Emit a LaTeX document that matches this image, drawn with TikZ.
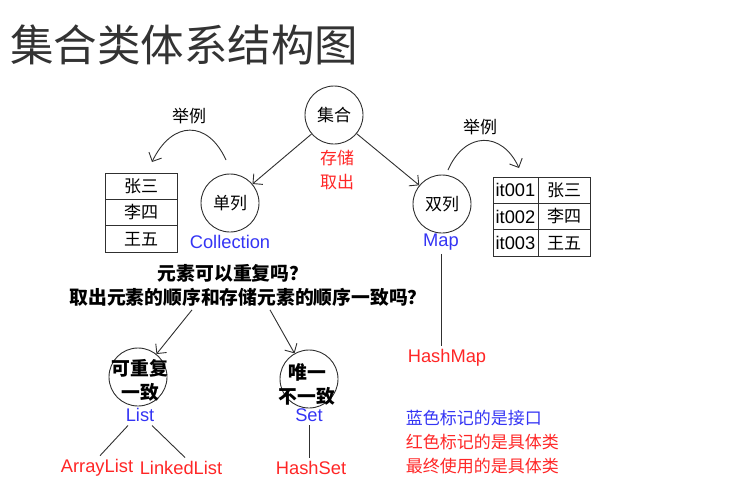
\documentclass[tikz,border=0pt]{standalone}
\usepackage{fontspec}
\setmainfont{Liberation Sans}
\newfontfamily\cjk{Noto Sans CJK SC}
\usetikzlibrary{arrows.meta,positioning}
\definecolor{iface}{HTML}{3434F4}
\definecolor{impl}{HTML}{FF2626}
\definecolor{ink}{HTML}{303030}
\newcommand{\zhsize}{\cjk\fontsize{17}{24}\selectfont}
\newcommand{\qsize}{\cjk\bfseries\fontsize{18.8}{24}\selectfont}
\newcommand{\latsize}{\fontsize{18.3}{22}\selectfont}
\tikzset{
  ring/.style={draw=ink,circle,minimum size=58pt,inner sep=0pt,font=\zhsize},
  cell/.style={draw=ink,minimum height=26.3pt,inner sep=0pt,outer sep=0pt},
  namecell/.style={cell,minimum width=72pt,font=\zhsize},
  keycell/.style={cell,minimum width=45pt,font=\latsize},
  valcell/.style={cell,minimum width=52pt,font=\zhsize},
  zh/.style={font=\zhsize},
  qtext/.style={font=\qsize,align=center},
  iname/.style={text=iface,font=\latsize},
  cname/.style={text=impl,font=\latsize},
  arr/.style={-{Straight Barb[length=7pt,width=14pt]}}
}
\begin{document}
\begin{tikzpicture}[x=1pt,y=-1pt,line width=0.9pt,draw=ink]
  \useasboundingbox (0,0) rectangle (735,496);

  % Title
  \node[anchor=west,inner sep=0pt,font=\cjk\fontsize{43.5}{46}\selectfont,text=black!80] (title) at (10,45) {集合类体系结构图};

  % Root and the two kinds
  \node[ring] (root) at (334,115) {集合};
  \node[zh,text=impl,align=center] (store) at (337,170) {存储\\取出};
  \node[ring] (single) at (230,203) {单列};
  \node[iname] (coll) at (230,242) {Collection};
  \node[ring] (double) at (442,204) {双列};
  \node[iname] (map) at (441,242) {Map};
  \draw[arr] (root) -- (single);
  \draw[arr] (root) -- (double);

  % Example tables
  \foreach \v [count=\i] in {张三,李四,王五} {
    \node[namecell] (s\i) at (141,{186.2+26.3*(\i-1)}) {\v};
  }
  \foreach \k/\v [count=\i] in {it001/张三, it002/李四, it003/王五} {
    \node[keycell] (k\i) at (515.5,{190.2+26.3*(\i-1)}) {\k};
    \node[valcell,right=0pt of k\i] (v\i) {\v};
  }

  % Example arrows
  \coordinate (ls) at (226,160);
  \coordinate (le) at (152,162);
  \draw[arr] (ls) .. controls (208,120) and (172,120) .. (le);
  \node[zh] (lex) at (189,116) {举例};
  \coordinate (rs) at (448,170);
  \coordinate (re) at (519,168);
  \draw[arr] (rs) .. controls (465,131) and (502,131) .. (re);
  \node[zh] (rex) at (480,127) {举例};

  % Question
  \node[qtext] (q1) at (233,273) {元素可以重复吗？};
  \node[qtext] (q2) at (248,297) {取出元素的顺序和存储元素的顺序一致吗？};

  % List and Set
  \node[ring] (list) at (138,377) {};
  \node[qtext] (listq) at (140,380) {可重复\\一致};
  \node[ring] (set) at (309,379) {};
  \node[qtext] (setq) at (307,384) {唯一\\不一致};
  \draw[arr] ([xshift=-56pt]q2.south) -- (list);
  \draw[arr] ([xshift=22pt]q2.south) -- (set);
  \node[iname] (listn) at (140,415) {List};
  \node[iname] (setn) at (309,415) {Set};

  % Classes
  \node[cname] (alist) at (97,468) {ArrayList};
  \node[cname] (llist) at (181,468) {LinkedList};
  \node[cname] (hset) at (311,468) {HashSet};
  \node[cname] (hmap) at (447,358) {HashMap};
  \draw ([xshift=-12pt]listn.south) -- ([xshift=3pt]alist.north);
  \draw ([xshift=12pt]listn.south) -- ([xshift=4pt]llist.north);
  \draw (setn.south) -- (setn.south |- hset.north);
  \draw (map.south) -- (map.south |- hmap.north);

  % Legend
  \node[zh,anchor=west,text=iface] (note1) at (402,418) {蓝色标记的是接口};
  \node[zh,anchor=west,text=impl] (note2) at (402,442) {红色标记的是具体类};
  \node[zh,anchor=west,text=impl] (note3) at (402,466) {最终使用的是具体类};
\end{tikzpicture}
\end{document}
